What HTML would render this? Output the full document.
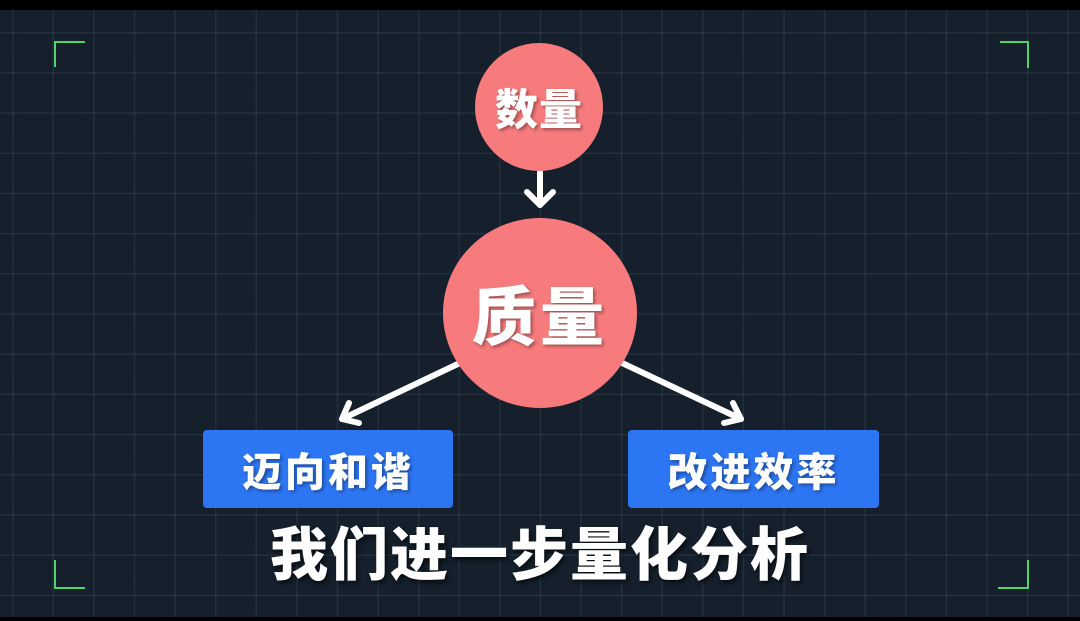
<!DOCTYPE html>
<html><head><meta charset="utf-8"><style>
html,body{margin:0;padding:0;}
body{width:1080px;height:621px;overflow:hidden;position:relative;background:#15202c;
font-family:"Liberation Sans","Noto Sans CJK SC",sans-serif;}
.grid{position:absolute;left:0;top:0;width:1080px;height:621px;
background-image:linear-gradient(to right,rgba(120,140,160,0.14) 1.5px,transparent 1.5px),linear-gradient(to bottom,rgba(120,140,160,0.14) 1.5px,transparent 1.5px);
background-size:40.6px 40.2px;background-position:12px 32px;}
.bar{position:absolute;left:0;width:1080px;background:#000;}
.c{position:absolute;border-radius:50%;background:#f77b7d;color:#fff;font-weight:900;display:flex;align-items:center;justify-content:center;text-shadow:2px 2px 3px rgba(0,0,0,0.35);}
.b{position:absolute;background:#2d76f3;border-radius:4px;color:#fff;font-weight:900;font-size:40px;display:flex;align-items:center;justify-content:center;text-shadow:2px 2px 3px rgba(0,0,0,0.35);letter-spacing:3px;}
.sub{position:absolute;left:0;width:1080px;top:508px;text-align:center;color:#fff;font-weight:900;font-size:58px;letter-spacing:2px;text-shadow:2px 3px 4px rgba(0,0,0,0.6);}
</style></head><body>
<div class="grid"></div>
<div class="bar" style="top:0;height:10px"></div>
<div class="bar" style="top:617px;height:4px"></div>
<svg width="1080" height="621" style="position:absolute;left:0;top:0">
<g fill="none" stroke="#4fd46a" stroke-width="2">
<path d="M55 67 V42 H85"/><path d="M1000 42 H1028 V68"/>
<path d="M55 560 V588 H85"/><path d="M998 588 H1028 V560"/>
</g>
<g stroke="#fff" stroke-width="6" fill="none" stroke-linecap="round" stroke-linejoin="round">
<path d="M540 172 V205"/><path d="M527 192 L540 205 L553 192"/>
<path d="M462 362 L342 419"/><path d="M349 403 L342 419 L359 423"/>
<path d="M620 362 L741 419"/><path d="M724 423 L741 419 L733 403"/>
</g>
</svg>
<div class="c" style="left:475px;top:43px;width:128px;height:128px;font-size:43px;letter-spacing:1px">数量</div>
<div class="c" style="left:443px;top:218px;width:194px;height:190px;font-size:64px;letter-spacing:4px">质量</div>
<div class="b" style="left:203px;top:430px;width:250px;height:78px">迈向和谐</div>
<div class="b" style="left:628px;top:430px;width:251px;height:78px">改进效率</div>
<div class="sub">我们进一步量化分析</div>
</body></html>
